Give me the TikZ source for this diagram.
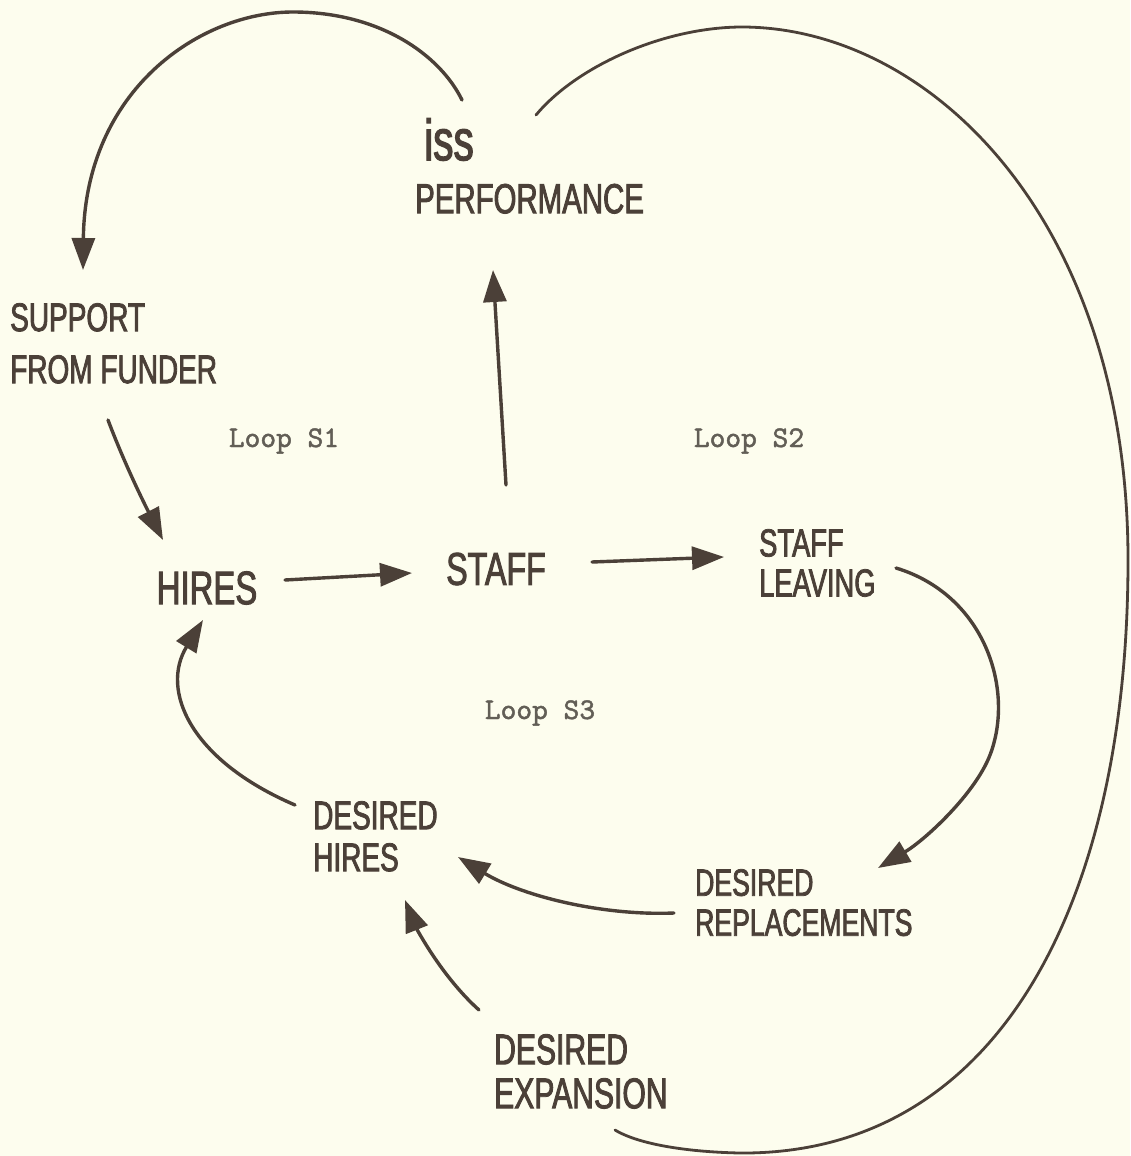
\documentclass[tikz,border=0pt]{standalone}
\usepackage{fontspec}
\newfontfamily\handfont{Liberation Sans}[FakeStretch=0.7, FakeBold=2]
\newfontfamily\loopfont{lmmono10-regular.otf}[FakeBold=1.5]
\usetikzlibrary{arrows.meta}
\definecolor{ink}{HTML}{4B4038}
\definecolor{paper}{HTML}{FDFDEE}
\definecolor{loopgray}{HTML}{625E56}
\begin{document}
\begin{tikzpicture}[x=1pt,y=-1pt,
  hand/.style 2 args={font=\handfont\fontsize{#1}{#2}\selectfont, text=ink, inner sep=0pt, align=left},
  looplabel/.style={font=\loopfont\fontsize{30}{36}\selectfont, text=loopgray, inner sep=0pt},
  link/.style={draw=ink, line width=3.4pt, line cap=round, -{Triangle[length=32pt,width=23pt]}},
  bigarc/.style={draw=ink, line width=2.8pt, line cap=round}]
\fill[paper] (0,0) rectangle (1130,1156);
\useasboundingbox (0,0) rectangle (1130,1156);

% variables
\node[hand={42}{53}, anchor=north west] (perf) at (415,118) {\hspace*{9pt}{\fontsize{58}{53}\selectfont iss}\\PERFORMANCE};
\node[hand={40}{52}, anchor=north west] (support) at (10,303) {SUPPORT\\FROM FUNDER};
\node[hand={47}{56}] (hires) at (207,588) {HIRES};
\node[hand={46}{55}] (staff) at (496,569) {STAFF};
\node[hand={39}{40}, anchor=north west] (leaving) at (759,529) {STAFF\\LEAVING};
\node[hand={40}{42}, anchor=north west] (dhires) at (313,801) {DESIRED\\HIRES};
\node[hand={38}{40}, anchor=north west] (drepl) at (695,869) {DESIRED\\REPLACEMENTS};
\node[hand={43}{44}, anchor=north west] (dexp) at (494,1034) {DESIRED\\EXPANSION};

% loop labels
\node[looplabel] (loopA) at (284,441) {Loop S1};
\node[looplabel] (loopB) at (749,441) {Loop S2};
\node[looplabel] (loopC) at (540,713) {Loop S3};

% iss performance -> support from funder
\draw[link] ([shift={(47,-18)}]perf.north west)
  .. controls (440,55) and (380,12) .. (293,12)
  .. controls (200,12) and (85,90) .. ([shift={(73,-33)}]support.north west);

% iss performance -> desired expansion (big loop, no head)
\draw[bigarc] ([shift={(121,-3)}]perf.north west)
  .. controls (575,68) and (660,28) .. (740,27)
  .. controls (930,26) and (1128,220) .. (1128,560)
  .. controls (1128,900) and (1000,1155) .. (740,1153)
  .. controls (690,1152) and (640,1145) .. ([shift={(121,96)}]dexp.north west);

% support -> hires
\draw[link] ([shift={(98,117)}]support.north west)
  .. controls (125,465) and (145,505) .. ([shift={(-44,-48)}]hires.center);

% hires -> staff
\draw[link] ([shift={(78,-8)}]hires.center) -- ([shift={(-84,4)}]staff.center);

% staff -> iss performance
\draw[link] ([shift={(10,-84)}]staff.center) -- ([shift={(78,152)}]perf.north west);

% staff -> staff leaving
\draw[link] ([shift={(96,-7)}]staff.center) -- ([shift={(-35,28)}]leaving.north west);

% staff leaving -> desired replacements
\draw[link] ([shift={(137,39)}]leaving.north west)
  .. controls (985,595) and (1015,690) .. (990,755)
  .. controls (975,794) and (925,840) .. ([shift={(183,-1)}]drepl.north west);

% desired replacements -> desired hires
\draw[link] ([shift={(-21,44)}]drepl.north west)
  .. controls (600,916) and (520,895) .. ([shift={(145,56)}]dhires.north west);

% desired expansion -> desired hires
\draw[link] ([shift={(-15,-24)}]dexp.north west)
  .. controls (440,975) and (415,925) .. ([shift={(92,99)}]dhires.north west);

% desired hires -> hires
\draw[link] ([shift={(-18,4)}]dhires.north west)
  .. controls (190,760) and (160,690) .. ([shift={(-4,32)}]hires.center);
\end{tikzpicture}
\end{document}
